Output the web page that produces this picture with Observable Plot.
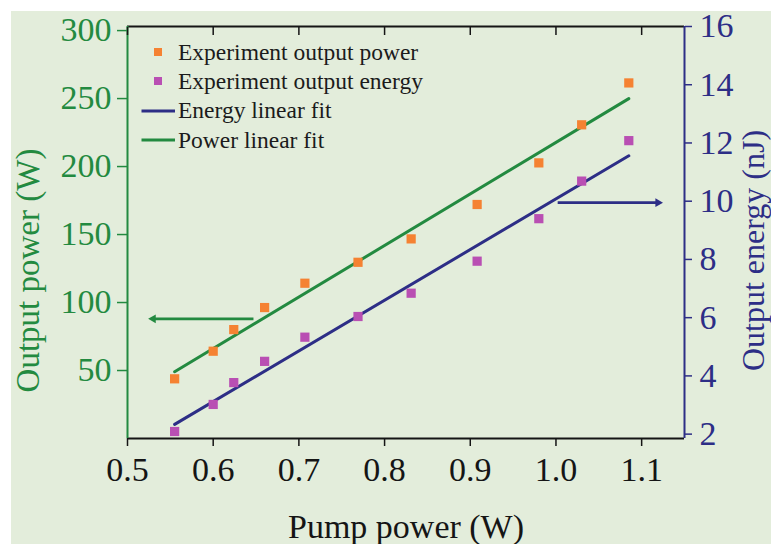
<!DOCTYPE html>
<html>
<head>
<meta charset="utf-8">
<script src="https://cdn.jsdelivr.net/npm/d3@7"></script>
<script src="https://cdn.jsdelivr.net/npm/@observablehq/plot@0.6"></script>
<style>
  html, body { margin: 0; padding: 0; background: #fff; }
  #wrap { position: relative; width: 771px; height: 544px; overflow: hidden; background: #fff; }
  #bg { position: absolute; left: 11px; top: 11px; right: 0; bottom: 0; background: #e3eddb; }
  #chart { position: absolute; left: 0; top: 0; }
  #legend { position: absolute; left: 141px; top: 37.5px; font-family: "Liberation Serif", "Times New Roman", serif; font-size: 23.5px; color: #1b1b1b; }
  #legend .row { display: flex; align-items: center; height: 29.3px; white-space: nowrap; }
  #legend svg { flex: none; margin-right: 3px; }
</style>
</head>
<body>
<div id="wrap">
  <div id="bg"></div>
  <div id="chart"></div>
  <div id="legend"></div>
</div>
<script>
// Pump power (W) for each measurement
const pump = [0.555, 0.600, 0.624, 0.660, 0.707, 0.769, 0.831, 0.908, 0.980, 1.030, 1.085];
// Measured output power (W)
const power = [43.9, 64.2, 80.1, 96.3, 114.2, 129.6, 146.8, 172.1, 202.7, 230.7, 261.5];
// Measured output pulse energy (nJ)
const energy = [2.09, 3.02, 3.77, 4.50, 5.33, 6.04, 6.84, 7.94, 9.40, 10.69, 12.08];

const xTicks = [0.5, 0.6, 0.7, 0.8, 0.9, 1.0, 1.1];
const powerTicks = [50, 100, 150, 200, 250, 300];
const energyTicks = [2, 4, 6, 8, 10, 12, 14, 16];

const xDomain = [0.5, 1.15];
const powerDomain = [0, 303];
const energyDomain = [1.85, 16];

const legendNames = ["Experiment output power", "Experiment output energy", "Energy linear fit", "Power linear fit"];
const legendKinds = ["square", "square", "line", "line"];

// Direction arrows pointing each series to its own axis
const arrowPump = [[0.647, 0.530], [1.002, 1.119]];
const arrowLevel = [88, 9.95]; // power (W) for the first, energy (nJ) for the second

const GREEN = "#238a40", BLUE = "#2d2e86", ORANGE = "#f58232", PURPLE = "#b94fb3", INK = "#151515";
const legendColors = [ORANGE, PURPLE, BLUE, GREEN];

// energy values are placed on the power scale through this mapping (right axis)
const e2p = d3.scaleLinear(energyDomain, powerDomain);

const rows = pump.map((x, i) => ({pump: x, power: power[i], energy: energy[i]}));
const arrows = [
  {x1: arrowPump[0][0], x2: arrowPump[0][1], y: arrowLevel[0], color: GREEN},
  {x1: arrowPump[1][0], x2: arrowPump[1][1], y: e2p(arrowLevel[1]), color: BLUE}
];

const chart = Plot.plot({
  width: 771,
  height: 544,
  marginLeft: 127,
  marginRight: 87,
  marginTop: 26,
  marginBottom: 106,
  style: {background: "transparent", fontFamily: "'Liberation Serif','Times New Roman',serif", fontSize: "34px", overflow: "visible"},
  x: {domain: xDomain},
  y: {domain: powerDomain},
  marks: [
    Plot.linearRegressionY(rows, {x: "pump", y: "power", stroke: GREEN, strokeWidth: 3, ci: 0}),
    Plot.linearRegressionY(rows, {x: "pump", y: d => e2p(d.energy), stroke: BLUE, strokeWidth: 3, ci: 0}),
    Plot.dot(rows, {x: "pump", y: "power", symbol: "square", r: 5.2, fill: ORANGE}),
    Plot.dot(rows, {x: "pump", y: d => e2p(d.energy), symbol: "square", r: 5.2, fill: PURPLE}),
    // arrow shafts with solid triangular heads
    Plot.link(arrows, {x1: "x1", x2: "x2", y1: "y", y2: "y", stroke: "color", strokeWidth: 2.6}),
    Plot.dot(arrows, {x: "x2", y: "y", symbol: "triangle2", r: 4.2, fill: "color", rotate: d => (d.x2 < d.x1 ? -90 : 90)}),
    // frame: black top/bottom, coloured sides matching each y axis
    Plot.ruleY([powerDomain[0]], {stroke: INK, strokeWidth: 2}),
    Plot.ruleY([powerDomain[1]], {stroke: INK, strokeWidth: 2}),
    Plot.ruleX([xDomain[0]], {stroke: GREEN, strokeWidth: 2}),
    Plot.ruleX([xDomain[1]], {stroke: BLUE, strokeWidth: 2}),
    Plot.axisX(xTicks, {anchor: "bottom", tickSize: 8, tickPadding: 10, strokeWidth: 1.5, color: INK, tickFormat: d3.format(".1f"), label: null}),
    // inward ticks along the top edge
    Plot.axisX(xTicks, {anchor: "top", tickSize: 8, dy: 8, strokeWidth: 1.5, color: INK, tickFormat: () => "", label: null}),
    Plot.axisY(powerTicks, {anchor: "left", tickSize: 10, tickPadding: 6, strokeWidth: 1.5, color: GREEN, label: null}),
    Plot.axisY(energyTicks, {anchor: "right", y: e2p, tickSize: 7, tickPadding: 8, strokeWidth: 1.5, color: BLUE, tickFormat: d => String(d), label: null}),
    Plot.text(["Output power (W)"], {frameAnchor: "left", rotate: -90, dx: -99.5, dy: 38, fill: GREEN, fontSize: 33, textAnchor: "middle", lineAnchor: "middle"}),
    Plot.text(["Output energy (nJ)"], {frameAnchor: "right", rotate: -90, dx: 69, dy: 18, fill: BLUE, fontSize: 32, textAnchor: "middle", lineAnchor: "middle"}),
    Plot.text(["Pump power (W)"], {frameAnchor: "bottom", dy: 89, fill: INK, fontSize: 34, textAnchor: "middle", lineAnchor: "middle"})
  ]
});
document.getElementById("chart").appendChild(chart);

// legend inside the plot area
const legend = d3.select("#legend");
legendNames.forEach((name, i) => {
  const row = legend.append("div").attr("class", "row");
  const sw = row.append("svg").attr("width", 34).attr("height", 20);
  if (legendKinds[i] === "square") {
    sw.append("rect").attr("x", 13).attr("y", 6).attr("width", 8).attr("height", 8).attr("fill", legendColors[i]);
  } else {
    sw.append("line").attr("x1", 0.5).attr("x2", 34).attr("y1", 10).attr("y2", 10)
      .attr("stroke", legendColors[i]).attr("stroke-width", 3);
  }
  row.append("span").text(name);
});
</script>
</body>
</html>
